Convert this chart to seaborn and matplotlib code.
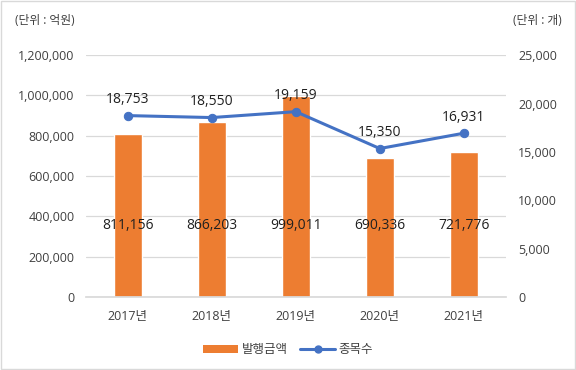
import matplotlib
matplotlib.use("Agg")
import matplotlib.pyplot as plt
import seaborn as sns
import numpy as np
import pandas as pd
from matplotlib.lines import Line2D
from matplotlib.patches import Patch

years = ["2017년", "2018년", "2019년", "2020년", "2021년"]
amount = [811156, 866203, 999011, 690336, 721776]
count = [18753, 18550, 19159, 15350, 16931]
left_ticks = [0, 200000, 400000, 600000, 800000, 1000000, 1200000]
right_ticks = [0, 5000, 10000, 15000, 20000, 25000]

sns.set_theme(style="white")
plt.rcParams['font.family'] = ['Open Sans', 'Noto Sans CJK KR', 'DejaVu Sans']

bar_color = "#ED7D31"
line_color = "#4472C4"
text_color = "#404040"

df = pd.DataFrame({"year": years, "amount": amount, "count": count})

fig = plt.figure(figsize=(5.76, 3.70), dpi=100)
ax = fig.add_axes([0.149, 0.197, 0.729, 0.654])

sns.barplot(data=df, x="year", y="amount", color=bar_color, width=0.33,
            saturation=1, ax=ax)
ax.set_ylim(0, 1200000)
ax.set_yticks(left_ticks)
ax.set_yticklabels([f"{v:,}" for v in left_ticks], fontsize=9, color=text_color)
ax.set_xticklabels(years, fontsize=9, color=text_color)
ax.set_xlabel("")
ax.set_ylabel("")
ax.set_xlim(-0.5, 4.5)
ax.grid(axis="y", color="#D9D9D9", linewidth=0.9)
ax.set_axisbelow(True)
for s in ["top", "left", "right"]:
    ax.spines[s].set_visible(False)
ax.spines["bottom"].set_color("#D9D9D9")
ax.tick_params(axis="y", length=0, pad=8)
ax.tick_params(axis="x", length=0, pad=9)

for i, v in enumerate(amount):
    ax.text(i, 357000, f"{v:,}", ha="center", va="center", fontsize=10, color="#202020")

ax2 = ax.twinx()
sns.lineplot(x=np.arange(len(years)), y=count, color=line_color, linewidth=2.2,
             marker="o", markersize=6, markeredgecolor=line_color, ax=ax2)
ax2.set_ylim(0, 25000)
ax2.set_yticks(right_ticks)
ax2.set_yticklabels([f"{v:,}" for v in right_ticks], fontsize=9, color=text_color)
ax2.tick_params(axis="y", length=0, pad=9)
for s in ["top", "left", "right", "bottom"]:
    ax2.spines[s].set_visible(False)
for i, v in enumerate(count):
    ax2.annotate(f"{v:,}", (i, v), xytext=(0, 6), textcoords="offset points",
                 ha="center", va="bottom", fontsize=10, color="#202020")

fig.text(0.026, 0.945, "(단위 : 억원)", fontsize=8.5, color=text_color, ha="left", va="center")
fig.text(0.975, 0.945, "(단위 : 개)", fontsize=8.5, color=text_color, ha="right", va="center")

handles = [Patch(facecolor=bar_color, edgecolor="none"),
           Line2D([0], [0], color=line_color, lw=2.2, marker="o", markersize=5)]
fig.legend(handles, ["발행금액", "종목수"], loc="center", bbox_to_anchor=(0.5, 0.055),
           ncol=2, frameon=False, fontsize=9, handlelength=2.8, handleheight=0.6,
           columnspacing=1.0, handletextpad=0.3, labelcolor=text_color)

fig.patches.append(plt.Rectangle((0.002, 0.003), 0.996, 0.994, transform=fig.transFigure,
                                 fill=False, edgecolor="#D9D9D9", linewidth=1))
fig.savefig("out.png", dpi=100)
